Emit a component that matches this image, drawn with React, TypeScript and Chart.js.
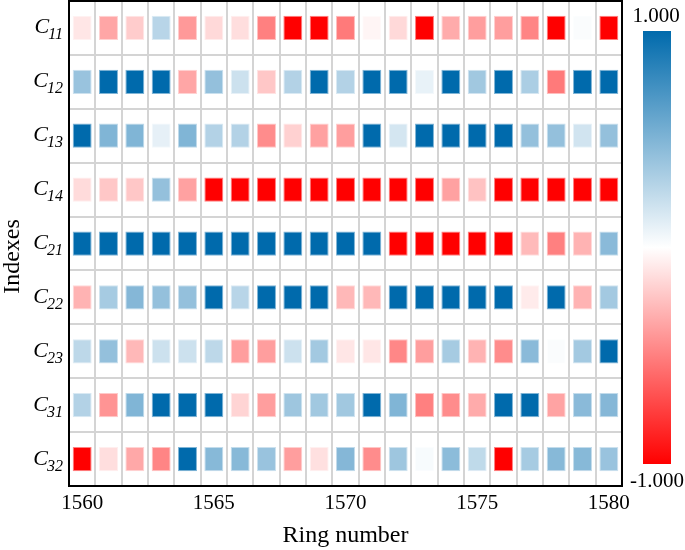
import React, { useEffect, useRef } from 'react';
import { Chart, registerables } from 'chart.js';

Chart.register(...registerables);

const years = ['1560', '1561', '1562', '1563', '1564', '1565', '1566', '1567', '1568', '1569', '1570',
  '1571', '1572', '1573', '1574', '1575', '1576', '1577', '1578', '1579', '1580'];
const rowNames = ['11', '12', '13', '14', '21', '22', '23', '31', '32'];

const c11 = [-0.1, -0.35, -0.2, 0.28, -0.4, -0.15, -0.13, -0.5, -1, -1, -0.52, -0.04, -0.15, -1, -0.33, -0.38, -0.38, -0.48, -1, 0.02, -1];
const c12 = [0.4, 1, 1, 1, -0.35, 0.42, 0.2, -0.22, 0.3, 1, 0.3, 1, 1, 0.09, 1, 0.37, 1, 0.33, -0.52, 1, 1];
const c13 = [1, 0.5, 0.5, 0.1, 0.5, 0.3, 0.3, -0.45, -0.18, -0.37, -0.38, 1, 0.17, 1, 1, 1, 1, 0.42, 0.42, 0.18, 0.42];
const c14 = [-0.14, -0.22, -0.22, 0.42, -0.37, -1, -1, -1, -1, -1, -1, -1, -1, -1, -0.37, -0.24, -1, -1, -1, -1, -1];
const c21 = [1, 1, 1, 1, 1, 1, 1, 1, 1, 1, 1, 1, -1, -1, -1, -1, -1, -0.27, -0.5, -0.3, 0.46];
const c22 = [-0.3, 0.35, 0.48, 0.42, 0.42, 1, 0.28, 1, 1, 1, -0.28, -0.28, 1, 1, 1, 1, 1, -0.08, 1, -0.3, 0.36];
const c23 = [0.26, 0.42, -0.28, 0.2, 0.2, 0.26, -0.38, -0.38, 0.2, 0.36, -0.1, -0.1, -0.47, -0.38, 0.35, -0.3, -0.45, 0.46, 0.02, 0.36, 1];
const c31 = [0.3, -0.42, 0.5, 1, 1, 1, -0.17, -0.38, 0.38, 0.37, 0.37, 1, 0.5, -0.5, -0.45, -0.33, 1, 1, -0.36, 0.46, 0.48];
const c32 = [-1, -0.13, -0.34, -0.48, 1, 0.47, 0.47, 0.4, -0.38, -0.12, 0.48, -0.45, 0.38, 0.03, 0.45, 0.25, -1, 0.35, 0.47, 0.47, 0.4];

const series = [c11, c12, c13, c14, c21, c22, c23, c31, c32];
const colorTicks = ['1.000', '-1.000'];

const BLUE = [0, 106, 172];
const RED = [255, 0, 0];

function colorFor(v: number, toWhite = 0): string {
  const base = v >= 0 ? BLUE : RED;
  const t = Math.min(1, Math.abs(v)) * (1 - toWhite);
  const c = base.map((b) => Math.round(255 + (b - 255) * t));
  return `rgb(${c[0]},${c[1]},${c[2]})`;
}

const FONT = '"Liberation Serif", "Times New Roman", serif';

const decorPlugin = {
  id: 'decor',
  afterDraw(chart: any) {
    const { ctx, chartArea, scales } = chart;
    const y = scales.y;
    ctx.save();
    // frame
    ctx.strokeStyle = '#000';
    ctx.lineWidth = 2;
    ctx.strokeRect(chartArea.left, chartArea.top, chartArea.right - chartArea.left, chartArea.bottom - chartArea.top);
    // row labels
    ctx.fillStyle = '#000';
    ctx.textBaseline = 'alphabetic';
    rowNames.forEach((n, i) => {
      const yc = y.getPixelForValue(rowNames.length - 0.5 - i);
      ctx.font = `italic 16px ${FONT}`;
      const sw = ctx.measureText(n).width;
      ctx.textAlign = 'right';
      ctx.fillText(n, 63, yc + 11.5);
      ctx.font = `italic 22px ${FONT}`;
      ctx.fillText('C', 63 - sw + 1, yc + 5.5);
    });
    // y title
    ctx.save();
    ctx.translate(18.5, 256.5);
    ctx.rotate(-Math.PI / 2);
    ctx.font = `24px ${FONT}`;
    ctx.textAlign = 'center';
    ctx.fillText('Indexes', 0, 0);
    ctx.restore();
    // colorbar
    const top = 31, bottom = 464;
    const g = ctx.createLinearGradient(0, top, 0, bottom);
    g.addColorStop(0, colorFor(1));
    g.addColorStop(0.5, '#ffffff');
    g.addColorStop(1, colorFor(-1));
    ctx.fillStyle = g;
    ctx.fillRect(643, top, 28, bottom - top);
    ctx.fillStyle = '#000';
    ctx.font = `21px ${FONT}`;
    ctx.textAlign = 'center';
    ctx.fillText(colorTicks[0], 656, 22);
    ctx.fillText(colorTicks[1], 657, 487);
    ctx.restore();
  },
};

export default function App() {
  const ref = useRef<HTMLCanvasElement | null>(null);
  useEffect(() => {
    document.body.style.margin = '0';
    if (!ref.current) return;
    const n = rowNames.length;
    const datasets = series.map((vals, i) => {
      const center = n - 0.5 - i;
      return {
        label: 'C' + rowNames[i],
        data: vals.map(() => [center - 0.225, center + 0.225]),
        backgroundColor: vals.map((v) => colorFor(v)),
        borderColor: vals.map((v) => colorFor(v, 0.5)),
        borderWidth: 1,
        borderSkipped: false,
        grouped: false,
        barPercentage: 0.72,
        categoryPercentage: 1,
      };
    });
    const chart = new Chart(ref.current, {
      type: 'bar',
      data: { labels: years, datasets: datasets as any },
      options: {
        animation: false,
        responsive: false,
        maintainAspectRatio: false,
        layout: { padding: { left: 0, right: 63, top: 1, bottom: 0 } },
        plugins: { legend: { display: false }, tooltip: { enabled: false } },
        scales: {
          x: {
            type: 'category',
            offset: true,
            grid: { offset: true, color: '#d4d4d4', lineWidth: 2, drawTicks: false },
            border: { display: false },
            ticks: {
              autoSkip: false,
              maxRotation: 0,
              minRotation: 0,
              padding: 5,
              color: '#000',
              font: { family: FONT, size: 21 },
              callback: (_v: any, i: number) => (Number(years[i]) % 5 === 0 ? years[i] : ''),
            },
            title: {
              display: true,
              text: 'Ring number',
              color: '#000',
              font: { family: FONT, size: 24 },
              padding: { top: 0, bottom: 0 },
            },
            afterFit: (s: any) => { s.height = 64; },
          },
          y: {
            type: 'linear',
            min: 0,
            max: 9,
            grid: { color: '#d4d4d4', lineWidth: 2, drawTicks: false },
            border: { display: false },
            ticks: { stepSize: 1, display: false },
            afterFit: (s: any) => { s.width = 69; },
          },
        },
      },
      plugins: [decorPlugin],
    });
    return () => chart.destroy();
  }, []);
  return (
    <div style={{ width: 685, height: 550 }}>
      <canvas ref={ref} width={685} height={550} />
    </div>
  );
}
